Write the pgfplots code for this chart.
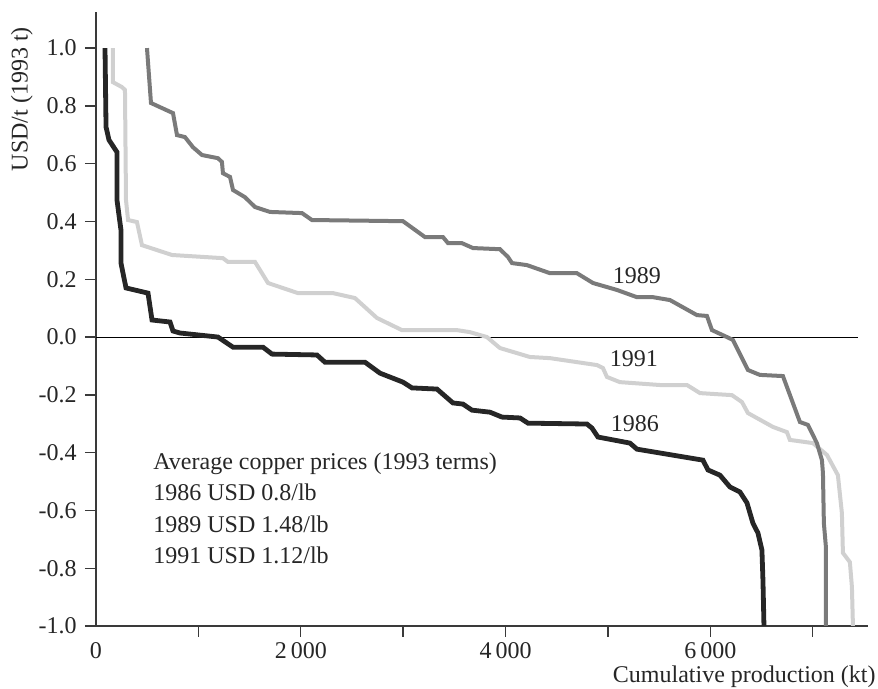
\documentclass[border=0pt]{standalone}
\usepackage{fontspec}
\setmainfont{Liberation Serif}
\usepackage{pgfplots}
\pgfplotsset{compat=1.18}
\definecolor{c86}{HTML}{262626}
\definecolor{c89}{HTML}{7A7A7A}
\definecolor{c91}{HTML}{D0D0D0}
\definecolor{axc}{HTML}{3A3A3A}
\begin{document}
\fontsize{12}{14}\selectfont
\begin{tikzpicture}
\useasboundingbox (-48pt,-31.5pt) rectangle (391pt,313pt);
\begin{axis}[
  scale only axis, width=386pt, height=307pt,
  xmin=0, xmax=7540, ymin=-1, ymax=1.125,
  axis lines*=left,
  axis line style={-, color=axc, line width=0.7pt},
  tick align=outside, major tick length=5.5pt,
  tick style={color=axc, line width=0.7pt},
  /pgf/number format/assume math mode=true,
  xtick={1000,2000,3000,4000,5000,6000,7000},
  xticklabels={,2\,000,,4\,000,,6\,000,},
  extra x ticks={0}, extra x tick labels={0},
  extra x tick style={major tick style={draw=none}},
  ytick={-1,-0.8,-0.6,-0.4,-0.2,0,0.2,0.4,0.6,0.8,1},
  yticklabels={-1.0,-0.8,-0.6,-0.4,-0.2,0.0,0.2,0.4,0.6,0.8,1.0},
  ticklabel style={font=\fontsize{12}{14}\selectfont, text=black!85},
  xticklabel style={yshift=1.5pt},
  xlabel={Cumulative production (kt)},
  xlabel style={at={(axis description cs:1,0)}, anchor=base east, inner sep=0pt, xshift=4pt, yshift=-28.5pt, font=\fontsize{12}{14}\selectfont, text=black!85},
  ylabel={USD/t (1993 t)},
  ylabel style={at={(axis description cs:-0.0959,0.858)}, anchor=center, font=\fontsize{12}{14}\selectfont, text=black!85},
]
\addplot[black, line width=0.5pt] coordinates {(0,0) (7440,0)};
% 1991
\addplot[c91, line width=2pt] coordinates {
(166,1.000) (166,0.882) (254,0.865) (283,0.855) (293,0.474) (313,0.405) (400,0.398)
(449,0.318) (742,0.284) (1240,0.273) (1289,0.260) (1553,0.260) (1680,0.187) (1973,0.152)
(2315,0.152) (2529,0.135) (2744,0.066) (2988,0.024) (3525,0.024) (3652,0.017) (3818,0.000)
(3945,-0.038) (4238,-0.069) (4434,-0.073) (4893,-0.097) (4951,-0.107) (4990,-0.138)
(5117,-0.156) (5508,-0.166) (5772,-0.166) (5899,-0.194) (6211,-0.201) (6309,-0.225)
(6367,-0.263) (6611,-0.311) (6748,-0.329) (6777,-0.356) (7002,-0.367) (7139,-0.408)
(7246,-0.478) (7285,-0.609) (7295,-0.747) (7363,-0.779) (7383,-0.865) (7393,-1.000)
};
% 1989
\addplot[c89, line width=2pt] coordinates {
(498,1.000) (537,0.810) (752,0.775) (791,0.699) (869,0.692) (947,0.657) (1035,0.630)
(1191,0.619) (1230,0.606) (1240,0.567) (1309,0.554) (1338,0.509) (1455,0.484) (1553,0.450)
(1699,0.433) (2012,0.429) (2109,0.405) (2998,0.401) (3213,0.346) (3389,0.346) (3438,0.325)
(3574,0.325) (3682,0.308) (3945,0.304) (4024,0.277) (4063,0.256) (4209,0.249) (4434,0.221)
(4697,0.221) (4854,0.187) (5088,0.163) (5283,0.138) (5440,0.138) (5606,0.128) (5869,0.076)
(5967,0.073) (6016,0.024) (6162,0.000) (6221,-0.010) (6367,-0.114) (6484,-0.131)
(6709,-0.135) (6875,-0.294) (6953,-0.304) (7041,-0.367) (7090,-0.426) (7100,-0.471)
(7109,-0.644) (7129,-0.727) (7129,-1.000)
};
% 1986
\addplot[c86, line width=2.4pt] coordinates {
(88,1.000) (98,0.727) (127,0.682) (205,0.640) (205,0.474) (244,0.370) (244,0.256)
(293,0.170) (508,0.152) (547,0.059) (723,0.052) (752,0.021) (820,0.014) (1191,0.000)
(1338,-0.035) (1631,-0.035) (1719,-0.059) (2158,-0.062) (2236,-0.087) (2627,-0.087)
(2774,-0.125) (2998,-0.156) (3086,-0.176) (3330,-0.180) (3486,-0.228) (3584,-0.232)
(3672,-0.253) (3848,-0.260) (3965,-0.277) (4141,-0.280) (4219,-0.298) (4795,-0.301)
(4844,-0.315) (4902,-0.346) (5215,-0.367) (5283,-0.388) (5928,-0.426) (5977,-0.460)
(6094,-0.478) (6192,-0.519) (6289,-0.536) (6358,-0.574) (6416,-0.644) (6465,-0.678)
(6504,-0.737) (6514,-0.841) (6524,-1.000)
};
\node[text=black!85] at (axis cs:5283,0.214) {1989};
\node[text=black!85] at (axis cs:5254,-0.075) {1991};
\node[text=black!85] at (axis cs:5264,-0.298) {1986};
\node[anchor=base west, inner sep=0pt, text=black!85] at (axis cs:557,-0.457) {Average copper prices (1993 terms)};
\node[anchor=base west, inner sep=0pt, text=black!85] at (axis cs:557,-0.567) {1986 USD 0.8/lb};
\node[anchor=base west, inner sep=0pt, text=black!85] at (axis cs:557,-0.675) {1989 USD 1.48/lb};
\node[anchor=base west, inner sep=0pt, text=black!85] at (axis cs:557,-0.782) {1991 USD 1.12/lb};
\end{axis}
\end{tikzpicture}
\end{document}
